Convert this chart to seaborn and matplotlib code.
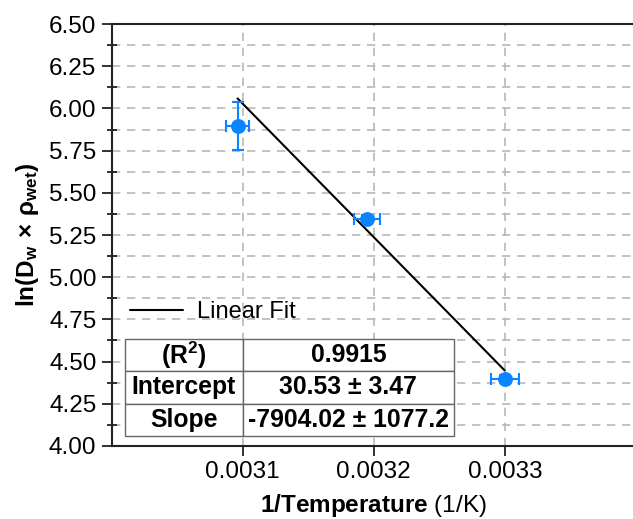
import matplotlib
matplotlib.use("Agg")
import matplotlib.pyplot as plt
import seaborn as sns
import pandas as pd
from matplotlib.ticker import MultipleLocator, FormatStrFormatter

# data
inv_temp = [0.003096, 0.003195, 0.0033]
ln_dw_rho = [5.896, 5.347, 4.398]
x_err = [0.0000086, 0.0000100, 0.0000108]
y_err = [0.143, 0.02, 0.02]

fit_slope = -7904.02
fit_intercept = 30.53
fit_rows = ["(R$^2$)", "Intercept", "Slope"]
fit_values = ["0.9915", "30.53 ± 3.47", "-7904.02 ± 1077.2"]

x_ticks = [0.0031, 0.0032, 0.0033]

sns.set_theme(style="white")
plt.rcParams['font.family'] = ['Liberation Sans', 'DejaVu Sans']
plt.rcParams['text.color'] = 'black'
plt.rcParams['axes.labelcolor'] = 'black'
plt.rcParams['xtick.color'] = 'black'
plt.rcParams['ytick.color'] = 'black'
plt.rcParams['mathtext.fontset'] = 'custom'
plt.rcParams['mathtext.rm'] = 'Liberation Sans:bold'
plt.rcParams['mathtext.it'] = 'Liberation Sans:bold'
plt.rcParams['mathtext.bf'] = 'Liberation Sans:bold'

df = pd.DataFrame({"x": inv_temp, "y": ln_dw_rho})
fit_x = [min(inv_temp), max(inv_temp)]
fit_df = pd.DataFrame({"x": fit_x, "y": [fit_intercept + fit_slope * v for v in fit_x]})

fig = plt.figure(figsize=(6.33, 5.19), dpi=100)
ax = fig.add_axes([0.1765, 0.1407, 0.828, 0.813])

blue = "#0a84ff"
sns.lineplot(data=fit_df, x="x", y="y", ax=ax, color="black", lw=1.5,
             label="Linear Fit", zorder=3)
ax.errorbar(inv_temp, ln_dw_rho, xerr=x_err, yerr=y_err, fmt="none",
            ecolor=blue, elinewidth=1.5, capsize=4.5, capthick=1.5, zorder=4)
sns.scatterplot(data=df, x="x", y="y", ax=ax, color=blue, s=115,
                edgecolor=blue, linewidth=0, zorder=5, legend=False)

ax.set_xlim(0.0030, 0.0034)
ax.set_ylim(4.0, 6.5)
ax.set_xticks(x_ticks)
ax.set_xticklabels([f"{v:.4f}" for v in x_ticks])
ax.yaxis.set_major_locator(MultipleLocator(0.25))
ax.yaxis.set_minor_locator(MultipleLocator(0.125))
ax.yaxis.set_major_formatter(FormatStrFormatter("%.2f"))

ax.grid(True, which="both", axis="y", color="#b8b8b8", ls=(0, (5, 4)), lw=1.2)
ax.grid(True, which="major", axis="x", color="#b8b8b8", ls=(0, (5, 4)), lw=1.2)
ax.set_axisbelow(True)

for s in ax.spines.values():
    s.set_color("#222222")
    s.set_linewidth(1.5)
ax.tick_params(axis="both", which="major", direction="out", length=7, width=1.3,
               color="#222222", labelsize=17.5, pad=4, left=True, bottom=True)
ax.tick_params(axis="y", which="minor", direction="inout", length=7, width=1.3,
               color="#222222", left=True)

ax.set_xlabel(r"$\mathbf{1/Temperature}$ (1/K)", fontsize=17.5, labelpad=6)
ax.set_ylabel(r"$\mathbf{ln(D_w\,\times\,\rho_{wet})}$", fontsize=17.5, labelpad=6)

leg = ax.legend(loc="center left", bbox_to_anchor=(0.035, 0.318), frameon=False,
                fontsize=17, handlelength=2.25, handletextpad=0.6,
                borderpad=0, borderaxespad=0)

tbl = ax.table(cellText=[[r, v] for r, v in zip(fit_rows, fit_values)],
               colWidths=[0.357, 0.643], cellLoc="center",
               bbox=[0.0254, 0.0244, 0.628, 0.2284], zorder=6)
tbl.auto_set_font_size(False)
for (r, c), cell in tbl.get_celld().items():
    cell.set_edgecolor("#666666")
    cell.set_linewidth(1.0)
    cell.set_facecolor("white")
    cell.get_text().set_fontsize(17.8)
    cell.get_text().set_fontweight("bold")
    cell.get_text().set_color("black")

fig.savefig("out.png", dpi=100)
